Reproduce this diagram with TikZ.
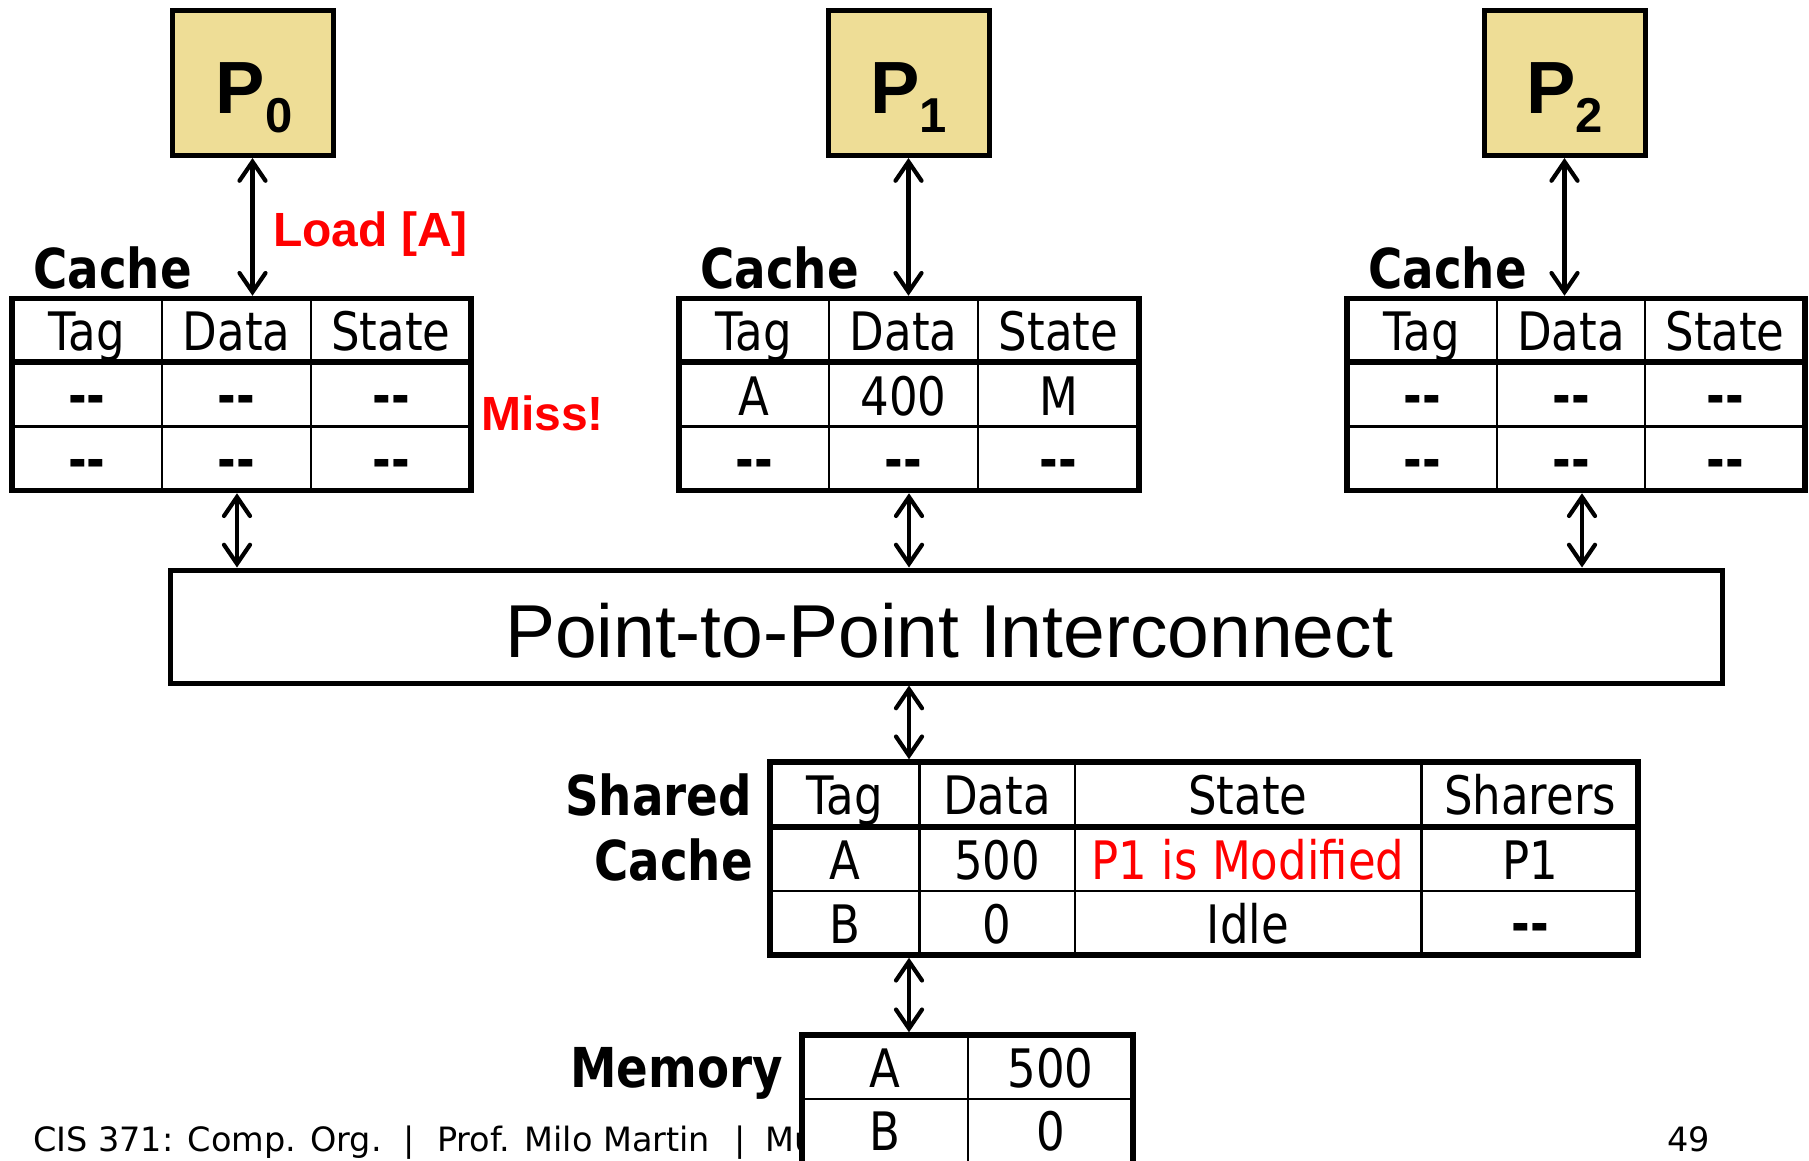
\documentclass[tikz,border=0pt]{standalone}
\usepackage{fontspec}
\usetikzlibrary{arrows.meta}
\newfontfamily\tah[FakeStretch=0.85]{DejaVu Sans}
\newfontfamily\verd{DejaVu Sans}
\newfontfamily\ari{Liberation Sans}
\definecolor{proccol}{RGB}{238,221,150}
\definecolor{hred}{RGB}{255,0,0}
\begin{document}
\begin{tikzpicture}[x=1pt,y=-1pt,
  procbox/.style={draw, line width=5pt, fill=proccol, minimum width=161pt, minimum height=145pt, inner sep=0pt},
  tbox/.style={draw, line width=5.5pt, fill=white, inner sep=0pt},
  cell/.style={font={\tah\fontsize{53}{53}\selectfont}, text height=38pt, text depth=0pt, inner sep=0pt, anchor=center},
  dashcell/.style={cell, font={\tah\bfseries\fontsize{53}{53}\selectfont}},
  redcell/.style={cell, text=hred},
  lbl/.style={font={\tah\bfseries\fontsize{55}{55}\selectfont}, inner sep=0pt},
  redlbl/.style={font={\ari\bfseries\fontsize{48}{48}\selectfont}, text=hred, inner sep=0pt, anchor=base west},
  plbl/.style={font={\ari\bfseries\fontsize{74}{74}\selectfont}, inner sep=0pt, anchor=base},
  foot/.style={font={\verd\fontsize{33.5}{33.5}\selectfont}, inner sep=0pt, anchor=base west},
  thickrule/.style={line width=5.5pt},
  thinrule/.style={line width=2.6pt},
  link/.style={line width=4.2pt, line cap=round,
    {Straight Barb[length=19pt,width=26pt,line cap=round]}-{Straight Barb[length=19pt,width=26pt,line cap=round]}}
]
\useasboundingbox (0,0) rectangle (1809,1160);
\clip (0,0) rectangle (1809,1160);

% footer (drawn first, memory table covers its end)
\node[foot] (f1) at (33,1151) {CIS 371: Comp. Org.};
\node[foot] (f2) at (403,1151) {|};
\node[foot] (f3) at (437,1151) {Prof. Milo Martin};
\node[foot] (f4) at (734,1151) {|};
\node[foot] (f5) at (765,1151) {Mu};
\node[foot] (f6) at (1667,1151) {49};

% processors
\node[procbox] (p0) at (252.5,83) {};
\node[procbox] (p1) at (908.5,83) {};
\node[procbox] (p2) at (1564.5,83) {};
\node[plbl] (p0t) at (254,113) {P\raisebox{-19pt}{\fontsize{49}{49}\selectfont 0}};
\node[plbl] (p1t) at (908.5,113) {P\raisebox{-19pt}{\fontsize{49}{49}\selectfont 1}};
\node[plbl] (p2t) at (1564.5,113) {P\raisebox{-19pt}{\fontsize{49}{49}\selectfont 2}};

% private caches
\node[tbox, minimum width=459pt, minimum height=192pt] (c0) at (241.5,394.5) {};
\node[tbox, minimum width=460pt, minimum height=192pt] (c1) at (909,394.5) {};
\node[tbox, minimum width=458pt, minimum height=192pt] (c2) at (1576,394.5) {};
\foreach \l/\r/\da/\db in {12/471/162/311, 679/1139/829/978, 1347/1805/1497/1645}{
  \draw[thickrule] (\l,362) -- (\r,362);
  \draw[thinrule] (\l,426.5) -- (\r,426.5);
  \draw[thinrule] (\da,298.5) -- (\da,490.5);
  \draw[thinrule] (\db,298.5) -- (\db,490.5);
}
\node[lbl, anchor=base west] (c0l) at (33,288) {Cache};
\node[lbl, anchor=base west] (c1l) at (700,288) {Cache};
\node[lbl, anchor=base west] (c2l) at (1368,288) {Cache};

% cache 0 cells
\node[cell] (c0h1) at (87,331.5) {Tag};
\node[cell] (c0h2) at (236.5,331.5) {Data};
\node[cell] (c0h3) at (391,331.5) {State};
\node[dashcell] (c0a1) at (87,395) {-\kern0pt-};
\node[dashcell] (c0a2) at (236.5,395) {-\kern0pt-};
\node[dashcell] (c0a3) at (391,395) {-\kern0pt-};
\node[dashcell] (c0b1) at (87,459) {-\kern0pt-};
\node[dashcell] (c0b2) at (236.5,459) {-\kern0pt-};
\node[dashcell] (c0b3) at (391,459) {-\kern0pt-};
% cache 1 cells
\node[cell] (c1h1) at (754,331.5) {Tag};
\node[cell] (c1h2) at (903.5,331.5) {Data};
\node[cell] (c1h3) at (1058.5,331.5) {State};
\node[cell] (c1a1) at (754,396) {A};
\node[cell] (c1a2) at (903.5,396) {400};
\node[cell] (c1a3) at (1058.5,396) {M};
\node[dashcell] (c1b1) at (754,459) {-\kern0pt-};
\node[dashcell] (c1b2) at (903.5,459) {-\kern0pt-};
\node[dashcell] (c1b3) at (1058.5,459) {-\kern0pt-};
% cache 2 cells
\node[cell] (c2h1) at (1422,331.5) {Tag};
\node[cell] (c2h2) at (1571,331.5) {Data};
\node[cell] (c2h3) at (1725,331.5) {State};
\node[dashcell] (c2a1) at (1422,395) {-\kern0pt-};
\node[dashcell] (c2a2) at (1571,395) {-\kern0pt-};
\node[dashcell] (c2a3) at (1725,395) {-\kern0pt-};
\node[dashcell] (c2b1) at (1422,459) {-\kern0pt-};
\node[dashcell] (c2b2) at (1571,459) {-\kern0pt-};
\node[dashcell] (c2b3) at (1725,459) {-\kern0pt-};

\node[redlbl] (load) at (273,246) {Load [A]};
\node[redlbl] (miss) at (481,430) {Miss!};

% interconnect
\node[draw, line width=5pt, fill=white, minimum width=1552pt, minimum height=113pt, inner sep=0pt] (ic) at (946,626.5) {};
\node[font={\ari\fontsize{75}{75}\selectfont}, inner sep=0pt, anchor=base] (ict) at (949,657) {Point-to-Point Interconnect};

% shared cache
\node[tbox, minimum width=868pt, minimum height=193pt] (sc) at (1204,858.5) {};
\draw[thickrule] (770,827) -- (1638,827);
\draw[thinrule] (770,891) -- (1638,891);
\foreach \x in {919.5,1075,1421.5}{\draw[thinrule] (\x,762) -- (\x,955);}
\node[cell] (sh1) at (845,795.5) {Tag};
\node[cell] (sh2) at (997,795.5) {Data};
\node[cell] (sh3) at (1248,795.5) {State};
\node[cell] (sh4) at (1530,795.5) {Sharers};
\node[cell] (sa1) at (845,860) {A};
\node[cell] (sa2) at (997,860) {500};
\node[redcell] (sa3) at (1248,860) {P1 is Modified};
\node[cell] (sa4) at (1530,860) {P1};
\node[cell] (sb1) at (845,924) {B};
\node[cell] (sb2) at (997,924) {0};
\node[cell] (sb3) at (1248,924) {Idle};
\node[dashcell] (sb4) at (1530,923) {-\kern0pt-};
\node[lbl, anchor=base east] (scl1) at (752,815) {Shared};
\node[lbl, anchor=base east] (scl2) at (753,880) {Cache};

% memory
\node[tbox, minimum width=331pt, minimum height=135pt] (mem) at (967.5,1102.5) {};
\draw[thinrule] (802,1099) -- (1133,1099);
\draw[thinrule] (968,1035) -- (968,1170);
\node[cell] (ma1) at (885,1068) {A};
\node[cell] (ma2) at (1050.5,1068) {500};
\node[cell] (mb1) at (885,1131) {B};
\node[cell] (mb2) at (1050.5,1131) {0};
\node[lbl, anchor=base east] (meml) at (783,1087) {Memory};

% connectors
\draw[link] (p0.south) -- (p0.south |- c0.north);
\draw[link] (p1.south) -- (p1.south |- c1.north);
\draw[link] (p2.south) -- (p2.south |- c2.north);
\coordinate (x0) at (237,0);
\coordinate (x2) at (1582,0);
\coordinate (xm) at (909,0);
\draw[link] (x0 |- c0.south) -- (x0 |- ic.north);
\draw[link] (xm |- c1.south) -- (xm |- ic.north);
\draw[link] (x2 |- c2.south) -- (x2 |- ic.north);
\draw[link] (xm |- ic.south) -- (xm |- sc.north);
\draw[link] (xm |- sc.south) -- (xm |- mem.north);
\end{tikzpicture}
\end{document}
